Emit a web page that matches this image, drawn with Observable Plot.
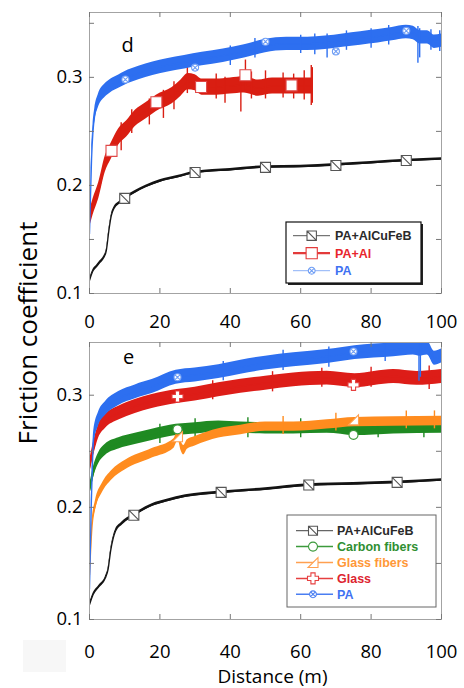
<!DOCTYPE html>
<html><head><meta charset="utf-8">
<script src="https://cdn.jsdelivr.net/npm/d3@7"></script>
<script src="https://cdn.jsdelivr.net/npm/@observablehq/plot@0.6"></script>
<style>
body{margin:0;background:#fff;}
#root{position:relative;width:464px;height:688px;overflow:hidden;font-family:"Open Sans",sans-serif;background:#fff;}
.panel{position:absolute;left:0;}
.ytitle{position:absolute;left:26.5px;top:333px;transform:translate(-50%,-50%) rotate(-90deg);white-space:nowrap;font-size:26px;line-height:1;color:#000;font-family:"Open Sans",sans-serif;}
.legend{position:absolute;left:0;top:0;}
.smudge{position:absolute;left:23px;top:640px;width:43px;height:32px;background:#f7f7f7;}
</style></head><body><div id="root"></div><script>
// ---------- ticks ----------
const xTicks = [0, 20, 40, 60, 80, 100];
const yTicks = [0.1, 0.2, 0.3];
const yMinorTicks = [0.15, 0.25, 0.35];
const xLabel = "Distance (m)";
const yLabel = "Friction coefficient";

// ---------- panel d ----------
const dLegend = ["PA+AlCuFeB", "PA+Al", "PA"];
const dBlackX = [0,1,2,3,4,4.8,5.5,6.2,7,8.5,10,13,16,20,25,30,40,50,60,70,80,90,100];
const dBlackY = [0.112,0.121,0.125,0.129,0.133,0.140,0.158,0.172,0.179,0.184,0.188,0.194,0.199,0.204,0.208,0.212,0.2145,0.217,0.2175,0.219,0.221,0.223,0.2245];
const dBlackHW = 0.0012;
const dBlackMX = [10, 30, 50, 70, 90];
const dBlackMY = [0.188, 0.212, 0.2167, 0.2185, 0.223];

const dRedX = [0,1,2.6,4.5,6.2,8.3,10.5,13,16,19,23.5,26,28,30,32,36,40,44,48,52,57,60,63.3];
const dRedY = [0.168,0.18,0.195,0.22,0.232,0.245,0.252,0.262,0.269,0.276,0.283,0.29,0.296,0.295,0.291,0.291,0.292,0.293,0.290,0.292,0.292,0.292,0.292];
const dRedHW = 0.0075;
const dRedSpikeX = [9, 12, 17, 21, 24, 27.8, 36, 38.5, 43, 44.3, 46, 50, 55, 58, 61, 63, 63.3];
const dRedSpikeLo = [0.232, 0.248, 0.256, 0.262, 0.270, 0.285, 0.280, 0.276, 0.268, 0.288, 0.280, 0.280, 0.281, 0.280, 0.279, 0.274, 0.276];
const dRedSpikeHi = [0.258, 0.270, 0.280, 0.288, 0.296, 0.311, 0.303, 0.300, 0.302, 0.316, 0.305, 0.306, 0.304, 0.303, 0.306, 0.311, 0.309];
const dRedMX = [6.25, 19, 31.7, 44.3, 57.4];
const dRedMY = [0.232, 0.277, 0.291, 0.302, 0.2926];

const dBlueX = [0,0.3,0.6,1,1.5,2.5,4.5,6,8.3,10,14,18,22,27,32,38,44,50,56,62,67,72,77,82,86,90,92,94,96,98,100];
const dBlueY = [0.155,0.19,0.225,0.25,0.265,0.278,0.288,0.292,0.296,0.299,0.304,0.308,0.311,0.314,0.317,0.320,0.324,0.329,0.331,0.331,0.332,0.334,0.336,0.338,0.340,0.342,0.341,0.337,0.337,0.333,0.334];
const dBlueHW = 0.0062;
const dBlueSpikeX = [40, 47, 60, 64, 67.5, 73, 80, 85, 93.3, 93.8, 97, 99.5];
const dBlueSpikeLo = [0.311, 0.318, 0.322, 0.321, 0.318, 0.325, 0.327, 0.330, 0.313, 0.318, 0.325, 0.324];
const dBlueSpikeHi = [0.329, 0.336, 0.339, 0.340, 0.340, 0.343, 0.345, 0.348, 0.347, 0.345, 0.344, 0.343];
const dBlueMX = [10.2, 30, 50, 70, 90];
const dBlueMY = [0.298, 0.309, 0.333, 0.324, 0.343];

// ---------- panel e ----------
const eLegend = ["PA+AlCuFeB", "Carbon fibers", "Glass fibers", "Glass", "PA"];
const eBlackX = [0,1,2.6,4.5,5.3,6,7.4,9,12.6,17.8,22,27.3,37.4,50,62.3,75,87.4,100];
const eBlackY = [0.113,0.122,0.129,0.137,0.145,0.161,0.179,0.185,0.193,0.202,0.206,0.210,0.2134,0.2163,0.2199,0.221,0.2223,0.2244];
const eBlackHW = 0.0012;
const eBlackMX = [12.6, 37.4, 62.3, 87.4];
const eBlackMY = [0.193, 0.2134, 0.2199, 0.2223];

const eGreenX = [0,0.5,1.2,2.6,4.5,8.3,13,17.8,24.6,30,36.7,43,50,58,67.5,75.4,86.4,100];
const eGreenY = [0.215,0.222,0.232,0.2438,0.2512,0.257,0.261,0.2646,0.269,0.2705,0.272,0.271,0.2705,0.2705,0.271,0.269,0.2705,0.271];
const eGreenHW = 0.005;
const eGreenSpikeX = [20, 30, 45, 60, 82, 95];
const eGreenSpikeLo = [0.257, 0.262, 0.262, 0.262, 0.262, 0.262];
const eGreenSpikeHi = [0.274, 0.279, 0.280, 0.279, 0.279, 0.280];
const eGreenMX = [25, 75];
const eGreenMY = [0.2695, 0.2646];

const eOrangeX = [0,0.75,1.7,3.6,6.4,10.2,17.8,24,25.2,26,26.8,27.8,30,36.7,43,50,58,67.5,75.4,86.4,100];
const eOrangeY = [0.14,0.184,0.202,0.217,0.2289,0.2378,0.2482,0.257,0.264,0.255,0.251,0.256,0.259,0.266,0.269,0.272,0.272,0.274,0.276,0.2765,0.277];
const eOrangeHW = 0.0042;
const eOrangeSpikeX = [55, 70, 90, 98];
const eOrangeSpikeLo = [0.265, 0.268, 0.270, 0.270];
const eOrangeSpikeHi = [0.281, 0.284, 0.286, 0.286];
const eOrangeMX = [25, 75];
const eOrangeMY = [0.263, 0.278];

const eRedX = [0,0.5,1.2,2.6,4.5,8.3,13,17.8,24.9,30,36.7,43,50,58,67.5,75.4,86.4,93,100];
const eRedY = [0.235,0.243,0.2527,0.268,0.2765,0.284,0.290,0.2944,0.2988,0.301,0.3048,0.308,0.3107,0.3137,0.3152,0.313,0.3167,0.315,0.3167];
const eRedHW = 0.0062;
const eRedSpikeX = [35, 52, 66, 80, 96.5];
const eRedSpikeLo = [0.296, 0.303, 0.307, 0.307, 0.305];
const eRedSpikeHi = [0.313, 0.321, 0.324, 0.325, 0.326];
const eRedMX = [25, 75];
const eRedMY = [0.2988, 0.3092];

const eBlueX = [0,0.5,1.2,2.6,4.5,8.3,13,17.8,24.6,30,36.7,43,50,58,67.5,75.4,86.4,92,93.8,96,98,100];
const eBlueY = [0.127,0.2,0.262,0.279,0.288,0.297,0.303,0.3077,0.316,0.318,0.321,0.325,0.3286,0.3316,0.3345,0.338,0.3405,0.342,0.341,0.342,0.333,0.335];
const eBlueHW = 0.0062;
const eBlueSpikeX = [38, 55, 68, 84, 93.6, 94];
const eBlueSpikeLo = [0.313, 0.322, 0.325, 0.330, 0.3125, 0.316];
const eBlueSpikeHi = [0.330, 0.340, 0.343, 0.348, 0.346, 0.345];
const eBlueMX = [25, 75];
const eBlueMY = [0.316, 0.339];

// ---------- custom marker symbols ----------
const rad = s => Math.sqrt(s / Math.PI);
const symSquareSlash = {draw(c, s){const r=rad(s); c.moveTo(-r,-r); c.lineTo(r,-r); c.lineTo(r,r); c.lineTo(-r,r); c.closePath(); c.moveTo(-r,-r); c.lineTo(r,r);}};
const symSquare = {draw(c, s){const r=rad(s); c.moveTo(-r,-r); c.lineTo(r,-r); c.lineTo(r,r); c.lineTo(-r,r); c.closePath();}};
const symCircleX = {draw(c, s){const r=rad(s); c.moveTo(r,0); c.arc(0,0,r,0,2*Math.PI); c.closePath(); const k=r*0.7; c.moveTo(-k,-k); c.lineTo(k,k); c.moveTo(k,-k); c.lineTo(-k,k);}};
const symCircle = {draw(c, s){const r=rad(s); c.moveTo(r,0); c.arc(0,0,r,0,2*Math.PI); c.closePath();}};
const symTri = {draw(c, s){const r=rad(s); c.moveTo(-r,r); c.lineTo(r,r); c.lineTo(r,-r); c.closePath();}};
const symPlus = {draw(c, s){const r=rad(s), w=r*0.38; c.moveTo(-w,-r); c.lineTo(w,-r); c.lineTo(w,-w); c.lineTo(r,-w); c.lineTo(r,w); c.lineTo(w,w); c.lineTo(w,r); c.lineTo(-w,r); c.lineTo(-w,w); c.lineTo(-r,w); c.lineTo(-r,-w); c.lineTo(-w,-w); c.closePath();}};

const W = 464, ML = 89, MR = 23, MT = 12;

function makePanel(cfg) {
  const {height, marginBottom, yDomain, series, letter, letterDx, letterDy, tickPad, extraMarks} = cfg;
  const plotH = height - MT - marginBottom, plotW = W - ML - MR;
  const allY = yTicks.concat(yMinorTicks).filter(v => v >= yDomain[0] && v <= yDomain[1]);
  const marks = [];
  for (const s of series) {
    const rows = s.x.map((x, i) => ({x, y: s.y[i], lo: s.y[i] - s.hw, hi: s.y[i] + s.hw}));
    marks.push(Plot.areaY(rows, {x: "x", y1: "lo", y2: "hi", fill: s.color, curve: "monotone-x", clip: true}));
    marks.push(Plot.line(rows, {x: "x", y: "y", stroke: s.color, strokeWidth: 1.3, curve: "monotone-x", clip: true}));
    if (s.spikeX) {
      const sp = s.spikeX.map((x, i) => ({x, lo: s.spikeLo[i], hi: s.spikeHi[i]}));
      marks.push(Plot.ruleX(sp, {x: "x", y1: "lo", y2: "hi", stroke: s.color, strokeWidth: 1.4, clip: true}));
    }
  }
  for (const s of series) {
    const m = s.mx.map((x, i) => ({x, y: s.my[i]}));
    marks.push(Plot.dot(m, {x: "x", y: "y", symbol: s.symbol, r: s.mr, stroke: s.mstroke, strokeWidth: 1.1, fill: "white"}));
  }
  marks.push(
    Plot.frame({stroke: "#a3a3a3"}),
    Plot.tickX(xTicks, {x: d => d, insetTop: plotH - 5, stroke: "#777"}),
    Plot.tickX(xTicks, {x: d => d, insetBottom: plotH - 5, stroke: "#777"}),
    Plot.tickY(allY, {y: d => d, insetRight: plotW - 5, stroke: "#777"}),
    Plot.tickY(allY, {y: d => d, insetLeft: plotW - 5, stroke: "#777"}),
    Plot.axisX(xTicks, {tickSize: 0, tickPadding: tickPad, fontSize: 18.5, fill: "#000", label: null}),
    Plot.axisY(yTicks, {tickSize: 0, tickPadding: 7, fontSize: 18.5, fill: "#000", label: null, tickFormat: d3.format(".1f")}),
    Plot.text([letter], {text: d => d, frameAnchor: "top-left", dx: letterDx, dy: letterDy, fontSize: 20, textAnchor: "middle", lineAnchor: "middle", fill: "#000"}),
    ...(extraMarks || [])
  );
  return Plot.plot({
    width: W, height, marginLeft: ML, marginRight: MR, marginTop: MT, marginBottom,
    x: {domain: [0, 100]}, y: {domain: yDomain},
    style: {fontFamily: "Open Sans, sans-serif", background: "transparent", overflow: "visible"},
    marks
  });
}

const C = {
  black: "#141414", red: "#d91e12", blue: "#2d6ff0", green: "#1f8a22", orange: "#ff8c1f", glass: "#dd1d18"
};

const root = document.getElementById("root");
const smudge = document.createElement("div"); smudge.className = "smudge"; root.appendChild(smudge);

const pd = makePanel({
  height: 330, marginBottom: 37, yDomain: [0.1, 0.36], letter: "d", letterDx: 38, letterDy: 33, tickPad: 21,
  series: [
    {x: dBlackX, y: dBlackY, hw: dBlackHW, color: C.black, mx: dBlackMX, my: dBlackMY, symbol: symSquareSlash, mr: 5, mstroke: "#555"},
    {x: dRedX, y: dRedY, hw: dRedHW, color: C.red, spikeX: dRedSpikeX, spikeLo: dRedSpikeLo, spikeHi: dRedSpikeHi, mx: dRedMX, my: dRedMY, symbol: symSquare, mr: 5.5, mstroke: "#e04848"},
    {x: dBlueX, y: dBlueY, hw: dBlueHW, color: C.blue, spikeX: dBlueSpikeX, spikeLo: dBlueSpikeLo, spikeHi: dBlueSpikeHi, mx: dBlueMX, my: dBlueMY, symbol: symCircleX, mr: 3.5, mstroke: "#6f9ef5"}
  ]
});
pd.classList.add("panel"); pd.style.top = "0px"; root.appendChild(pd);

const pe = makePanel({
  height: 358, marginBottom: 69, yDomain: [0.1, 0.347], letter: "e", letterDx: 39, letterDy: 14.6, tickPad: 25,
  series: [
    {x: eBlackX, y: eBlackY, hw: eBlackHW, color: C.black, mx: eBlackMX, my: eBlackMY, symbol: symSquareSlash, mr: 5, mstroke: "#555"},
    {x: eGreenX, y: eGreenY, hw: eGreenHW, color: C.green, spikeX: eGreenSpikeX, spikeLo: eGreenSpikeLo, spikeHi: eGreenSpikeHi, mx: eGreenMX, my: eGreenMY, symbol: symCircle, mr: 4.5, mstroke: "#3c9a3c"},
    {x: eOrangeX, y: eOrangeY, hw: eOrangeHW, color: C.orange, spikeX: eOrangeSpikeX, spikeLo: eOrangeSpikeLo, spikeHi: eOrangeSpikeHi, mx: eOrangeMX, my: eOrangeMY, symbol: symTri, mr: 5, mstroke: "#ffa050"},
    {x: eRedX, y: eRedY, hw: eRedHW, color: C.glass, spikeX: eRedSpikeX, spikeLo: eRedSpikeLo, spikeHi: eRedSpikeHi, mx: eRedMX, my: eRedMY, symbol: symPlus, mr: 5.5, mstroke: "#e64040"},
    {x: eBlueX, y: eBlueY, hw: eBlueHW, color: C.blue, spikeX: eBlueSpikeX, spikeLo: eBlueSpikeLo, spikeHi: eBlueSpikeHi, mx: eBlueMX, my: eBlueMY, symbol: symCircleX, mr: 3.5, mstroke: "#6f9ef5"}
  ],
  extraMarks: [
    Plot.text([xLabel], {text: d => d, frameAnchor: "bottom", dx: 7, dy: 57, fontSize: 19, textAnchor: "middle", lineAnchor: "middle", fill: "#000"})
  ]
});
pe.classList.add("panel"); pe.style.top = "330px"; root.appendChild(pe);

// y title
const yt = document.createElement("div"); yt.className = "ytitle"; yt.textContent = yLabel; root.appendChild(yt);

// legends
const lsvg = d3.create("svg").attr("class", "legend").attr("width", 464).attr("height", 688);
function legend(box, rows, entries, shadow) {
  const g = lsvg.append("g");
  if (shadow) g.append("rect").attr("x", box.x + 2).attr("y", box.y + 2).attr("width", box.w).attr("height", box.h).attr("fill", "#222");
  g.append("rect").attr("x", box.x).attr("y", box.y).attr("width", box.w).attr("height", box.h)
    .attr("fill", "white").attr("stroke", shadow ? "#111" : "#666").attr("stroke-width", shadow ? 1.2 : 1);
  entries.forEach((e, i) => {
    const y = rows.y0 + i * rows.dy;
    g.append("line").attr("x1", rows.x1).attr("x2", rows.x2).attr("y1", y).attr("y2", y).attr("stroke", e.line).attr("stroke-width", e.lw);
    const sz = Math.PI * e.r * e.r;
    g.append("path").attr("d", d3.symbol(e.symbol, sz)()).attr("transform", `translate(${rows.xm},${y})`)
      .attr("fill", "white").attr("stroke", e.mstroke).attr("stroke-width", 1.1);
    g.append("text").attr("x", rows.xt).attr("y", y).attr("dy", "0.36em").attr("fill", e.text)
      .attr("font-family", "Liberation Sans, Arial, sans-serif").attr("font-weight", "bold").attr("font-size", 12.5).text(e.label);
  });
}
legend({x: 286, y: 222, w: 135, h: 61}, {y0: 235.7, dy: 17.5, x1: 293, x2: 330, xm: 311.7, xt: 335}, [
  {label: dLegend[0], line: "#555", lw: 1, symbol: symSquareSlash, r: 4.7, mstroke: "#555", text: "#2a2a2a"},
  {label: dLegend[1], line: "#e33a3a", lw: 2.2, symbol: symSquare, r: 5.6, mstroke: "#e33a3a", text: "#e8262d"},
  {label: dLegend[2], line: "#8cb0f7", lw: 1, symbol: symCircleX, r: 3.4, mstroke: "#6f9ef5", text: "#3f72f2"}
], true);
legend({x: 287, y: 515, w: 149, h: 92}, {y0: 530.7, dy: 15.9, x1: 296, x2: 333, xm: 313, xt: 337}, [
  {label: eLegend[0], line: "#666", lw: 1.2, symbol: symSquareSlash, r: 4.5, mstroke: "#555", text: "#2a2a2a"},
  {label: eLegend[1], line: "#3c9a3c", lw: 1.5, symbol: symCircle, r: 4.5, mstroke: "#3c9a3c", text: "#2f8f32"},
  {label: eLegend[2], line: "#ffa050", lw: 1.5, symbol: symTri, r: 5, mstroke: "#ffa050", text: "#ff9838"},
  {label: eLegend[3], line: "#e64040", lw: 1.5, symbol: symPlus, r: 5.5, mstroke: "#e64040", text: "#dd2430"},
  {label: eLegend[4], line: "#4a7ef2", lw: 1.5, symbol: symCircleX, r: 3.4, mstroke: "#4a7ef2", text: "#3f72f2"}
], false);
root.appendChild(lsvg.node());
</script></body></html>
